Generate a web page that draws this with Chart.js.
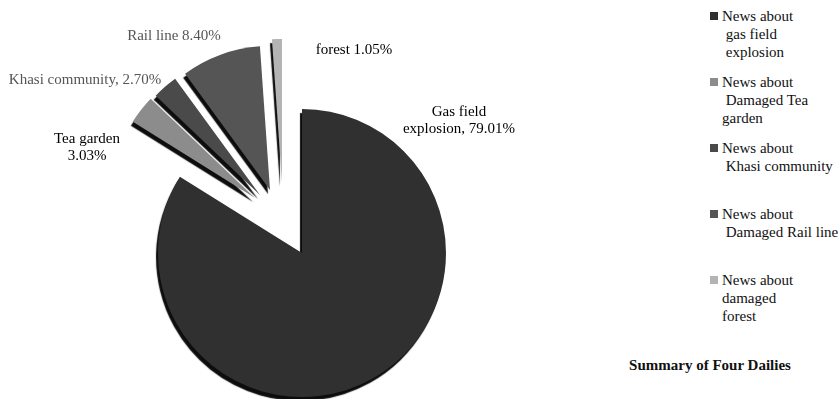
<!DOCTYPE html>
<html>
<head>
<meta charset="utf-8">
<script src="https://cdn.jsdelivr.net/npm/chart.js@4.4.0/dist/chart.umd.min.js"></script>
<style>
  html, body { margin: 0; padding: 0; background: #fff; overflow: hidden; }
  #wrap { position: relative; width: 840px; height: 399px; font-family: "Liberation Serif", "Times New Roman", serif; }
  #chartBox { position: absolute; left: 0; top: 0; width: 600px; height: 399px; }
  .legend-item { position: absolute; left: 710px; font-size: 15px; line-height: 18px; color: #111; }
  .legend-item .sw { position: absolute; left: 0; top: 4px; width: 8px; height: 8px; }
  .legend-item .txt { position: absolute; left: 12px; top: -1px; white-space: pre; }
  #title { position: absolute; left: 600px; width: 220px; top: 357px; text-align: center;
           font-weight: bold; font-size: 15px; color: #111; }
</style>
</head>
<body>
<div id="wrap">
  <div id="chartBox"><canvas id="pie"></canvas></div>
  <div id="legend"></div>
  <div id="title">Summary of Four Dailies</div>
</div>
<script>
'use strict';

// ── data ────────────────────────────────────────────
const categories = ['Gas field explosion', 'Tea garden', 'Khasi community', 'Rail line', 'forest'];
const shares     = [79.01, 3.03, 2.70, 8.40, 1.05];
const sliceLabels = [
  ['Gas field', 'explosion, 79.01%'],
  ['Tea garden', '3.03%'],
  ['Khasi community, 2.70%'],
  ['Rail line 8.40%'],
  ['forest 1.05%'],
];
const legendLabels = [
  ['News about', ' gas field', ' explosion'],
  ['News about', ' Damaged Tea', 'garden'],
  ['News about', ' Khasi community'],
  ['News about', ' Damaged Rail line'],
  ['News about', 'damaged', 'forest'],
];

// ── styling ─────────────────────────────────────────
const COLORS      = ['#303030', '#8c8c8c', '#4a4a4a', '#555555', '#b4b4b4'];
// how far each slice is pulled out of the pie (the source is a tilted 3D pie)
const EXPLODE     = [[0, 0], [-47, -55], [-42, -58], [-32, -63], [-20, -70]];
const LABEL_COLOR = ['#000', '#000', '#555', '#555', '#000'];
// label block centres, relative to the pie centre
const LABEL_POS   = [[157, -132], [-215, -105], [-217, -173], [-128, -217], [52, -203]];

const FONT = '"Liberation Serif", "Times New Roman", serif';

// pulls slices out and gives them a dark "thickness" edge
const explodePlugin = {
  id: 'explode',
  afterUpdate(chart) {
    chart.getDatasetMeta(0).data.forEach((arc, i) => {
      if (arc._exploded) return;
      arc._exploded = true;
      arc.draw = function (ctx, area) {
        ctx.save();
        ctx.translate(EXPLODE[i][0], EXPLODE[i][1]);
        ctx.shadowColor = '#0d0d0d';
        ctx.shadowOffsetX = -2;
        ctx.shadowOffsetY = 4;
        ctx.shadowBlur = 1;
        Chart.ArcElement.prototype.draw.call(this, ctx, area);
        ctx.restore();
      };
    });
  }
};

const sliceLabelPlugin = {
  id: 'sliceLabels',
  afterDatasetsDraw(chart) {
    const arcs = chart.getDatasetMeta(0).data;
    if (!arcs.length) return;
    const cx = arcs[0].x, cy = arcs[0].y;
    const ctx = chart.ctx;
    ctx.save();
    ctx.font = '15px ' + FONT;
    ctx.textAlign = 'center';
    ctx.textBaseline = 'middle';
    sliceLabels.forEach((lines, i) => {
      const [dx, dy] = LABEL_POS[i];
      const lh = 17;
      const y0 = cy + dy - (lines.length - 1) * lh / 2;
      ctx.fillStyle = LABEL_COLOR[i];
      lines.forEach((ln, j) => ctx.fillText(ln, cx + dx, y0 + j * lh));
    });
    ctx.restore();
  }
};

new Chart(document.getElementById('pie'), {
  type: 'pie',
  data: {
    labels: categories,
    datasets: [{
      data: shares,
      backgroundColor: COLORS,
      borderWidth: 0,
      clip: false,
    }]
  },
  options: {
    responsive: true,
    maintainAspectRatio: false,
    animation: false,
    radius: 144,
    layout: { padding: { left: 4, right: 0, top: 107, bottom: 0 } },
    plugins: {
      legend: { display: false },
      tooltip: { enabled: false },
      title: { display: false },
    },
  },
  plugins: [explodePlugin, sliceLabelPlugin],
});

// ── HTML legend ─────────────────────────────────────
const legendEl = document.getElementById('legend');
legendLabels.forEach((lines, i) => {
  const item = document.createElement('div');
  item.className = 'legend-item';
  item.style.top = (8 + i * 66) + 'px';
  const sw = document.createElement('span');
  sw.className = 'sw';
  sw.style.background = COLORS[i];
  const txt = document.createElement('span');
  txt.className = 'txt';
  txt.textContent = lines.join('\n');
  item.appendChild(sw);
  item.appendChild(txt);
  legendEl.appendChild(item);
});
</script>
</body>
</html>
